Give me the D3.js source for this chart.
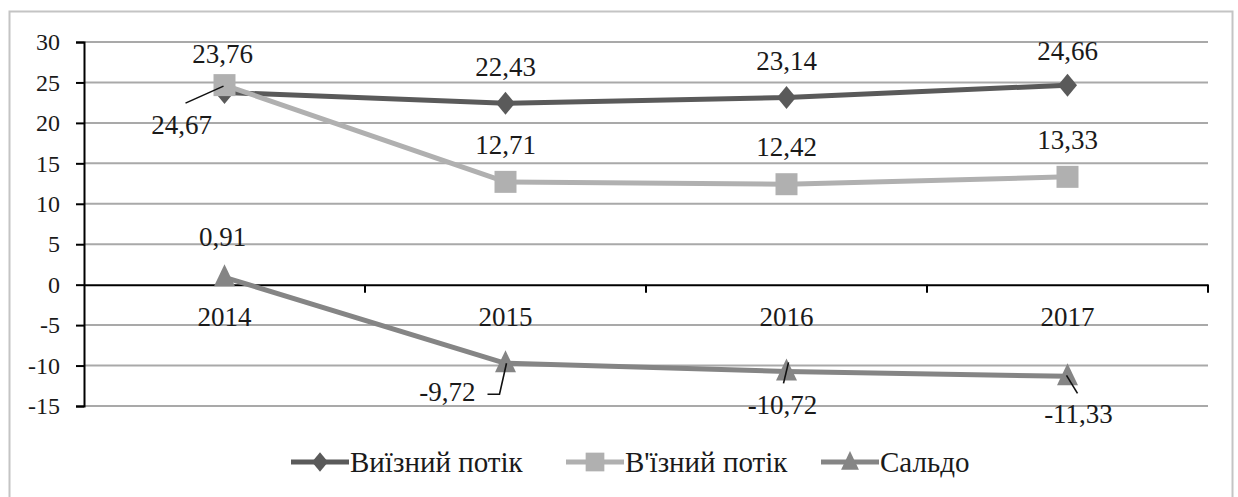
<!DOCTYPE html>
<html>
<head>
<meta charset="utf-8">
<script src="https://cdn.jsdelivr.net/npm/d3@7"></script>
<style>
  html, body { margin: 0; padding: 0; background: #fff; }
  svg { display: block; }
</style>
</head>
<body>
<svg id="chart" width="1238" height="497" font-family="Liberation Serif"></svg>
<script>
// Years on the category axis
const years = ["2014", "2015", "2016", "2017"];
// Outbound flow
const outbound = [23.76, 22.43, 23.14, 24.66];
// Inbound flow
const inbound = [24.67, 12.71, 12.42, 13.33];
// Balance (inbound minus outbound)
const balance = [0.91, -9.72, -10.72, -11.33];
// Value axis ticks
const yTicks = [-15, -10, -5, 0, 5, 10, 15, 20, 25, 30];
const seriesNames = ["Виїзний потік", "В'їзний потік", "Сальдо"];

const FONT = "'Liberation Serif', 'Times New Roman', serif";
const INK = "#1a1a1a";
const svg = d3.select("#chart");
const W = 1238, H = 497;
const plot = { left: 84, right: 1208, top: 42, bottom: 406 };

svg.append("rect").attr("width", W).attr("height", H).attr("fill", "#fff");
// chart frame (continues past the bottom edge)
svg.append("rect")
  .attr("x", 9.5).attr("y", 11.5).attr("width", 1223).attr("height", 520)
  .attr("fill", "none").attr("stroke", "#c4c4c4").attr("stroke-width", 2);

const x = d3.scaleBand().domain(years).range([plot.left, plot.right]).padding(0);
const y = d3.scaleLinear().domain([-15, 30]).range([plot.bottom, plot.top]);
const cx = d => x(d) + x.bandwidth() / 2;
const fmt = v => d3.format(".2f")(v).replace(".", ",").replace("−", "-");

// horizontal gridlines
svg.append("g").selectAll("line").data(yTicks.filter(t => t !== 0)).join("line")
  .attr("x1", plot.left).attr("x2", plot.right)
  .attr("y1", d => y(d)).attr("y2", d => y(d))
  .attr("stroke", "#a9a9a9").attr("stroke-width", 2);

// value axis
const yAxis = svg.append("g").attr("transform", `translate(${plot.left},0)`)
  .call(d3.axisLeft(y).tickValues(yTicks).tickSize(8).tickPadding(16)
    .tickFormat(d => String(d)));
yAxis.select(".domain").attr("stroke", "#000").attr("stroke-width", 2);
yAxis.selectAll(".tick line").attr("stroke", "#000").attr("stroke-width", 2);
yAxis.selectAll(".tick text").attr("fill", INK)
  .style("font-family", FONT).style("font-size", "24px");

// category axis at zero
const xAxis = svg.append("g").attr("transform", `translate(0,${y(0)})`)
  .call(d3.axisBottom(x).tickSize(0).tickPadding(0));
xAxis.select(".domain").attr("stroke", "#000").attr("stroke-width", 2);
xAxis.selectAll(".tick text").attr("fill", INK).attr("dy", null).attr("y", 41)
  .style("font-family", FONT).style("font-size", "27px");
// boundary tick marks between categories
const bounds = years.map(d => x(d)).concat([x(years[years.length - 1]) + x.bandwidth()]);
xAxis.append("g").selectAll("line").data(bounds.slice(1)).join("line")
  .attr("x1", d => d).attr("x2", d => d).attr("y1", 0).attr("y2", 8)
  .attr("stroke", "#000").attr("stroke-width", 2);

// marker shapes
const diamond = d3.symbol().type({
  draw(ctx) { ctx.moveTo(0, -11.5); ctx.lineTo(9.5, 0); ctx.lineTo(0, 11.5); ctx.lineTo(-9.5, 0); ctx.closePath(); }
})();
const square = d3.symbol().type({
  draw(ctx) { ctx.rect(-11, -11, 22, 22); }
})();
const triangle = d3.symbol().type({
  draw(ctx) { ctx.moveTo(0, -13); ctx.lineTo(10.5, 9); ctx.lineTo(-10.5, 9); ctx.closePath(); }
})();

const series = [
  { name: seriesNames[0], values: outbound, color: "#5a5a5a", shape: diamond },
  { name: seriesNames[1], values: inbound, color: "#b0b0b0", shape: square },
  { name: seriesNames[2], values: balance, color: "#858585", shape: triangle }
];

const line = d3.line().x(d => cx(d.year)).y(d => y(d.value));
series.forEach(s => {
  const pts = years.map((yr, i) => ({ year: yr, value: s.values[i] }));
  const g = svg.append("g");
  g.append("path").datum(pts).attr("d", line)
    .attr("fill", "none").attr("stroke", s.color).attr("stroke-width", 5)
    .attr("stroke-linejoin", "round");
  g.selectAll("path.m").data(pts).join("path").attr("class", "m")
    .attr("d", s.shape).attr("fill", s.color)
    .attr("transform", d => `translate(${cx(d.year)},${y(d.value)})`);
});

// data label placement per series and year: [dx, dy, anchor]
const labelPos = [
  [[-2, -29, "middle"], [0, -27, "middle"], [0, -27, "middle"], [0, -25, "middle"]],
  [[-43, 49, "middle"], [0, -28, "middle"], [0, -28, "middle"], [0, -28, "middle"]],
  [[-2, -31, "middle"], [-30, 38, "end"], [-4, 43, "middle"], [11, 47, "middle"]]
];
// leader lines as offsets from the point: list of [dx, dy]
const leaders = {
  "1-0": [[-39, 18], [-1, 1]],
  "2-1": [[-18, 31], [-6, 31], [1, 0]],
  "2-2": [[2, -9], [-3, 12]],
  "2-3": [[-1, -1], [10, 17]]
};

const labels = svg.append("g");
series.forEach((s, si) => {
  s.values.forEach((v, i) => {
    const px = cx(years[i]), py = y(v);
    const [dx, dy, anchor] = labelPos[si][i];
    labels.append("text")
      .attr("x", px + dx).attr("y", py + dy)
      .attr("text-anchor", anchor).attr("fill", INK)
      .style("font-family", FONT).style("font-size", "27px")
      .text(fmt(v));
    const ld = leaders[`${si}-${i}`];
    if (ld) {
      labels.append("path")
        .attr("d", d3.line()(ld.map(([a, b]) => [px + a, py + b])))
        .attr("fill", "none").attr("stroke", "#111").attr("stroke-width", 1.6);
    }
  });
});

// legend
const legendItems = [
  { x: 291, s: series[0] },
  { x: 566, s: series[1] },
  { x: 821, s: series[2] }
];
const ly = 462;
const lg = svg.append("g");
legendItems.forEach(it => {
  lg.append("line").attr("x1", it.x).attr("x2", it.x + 58)
    .attr("y1", ly).attr("y2", ly)
    .attr("stroke", it.s.color).attr("stroke-width", 5);
  lg.append("path").attr("d", it.s.shape).attr("fill", it.s.color)
    .attr("transform", `translate(${it.x + 29},${ly}) scale(0.85)`);
  lg.append("text").attr("x", it.x + 59).attr("y", ly + 10)
    .attr("fill", INK)
    .style("font-family", FONT).style("font-size", "29px")
    .text(it.s.name);
});
</script>
</body>
</html>
